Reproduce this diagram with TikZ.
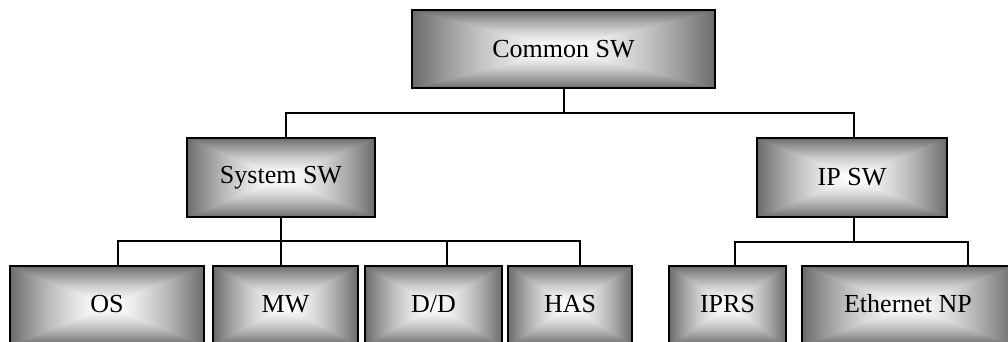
\documentclass[tikz,border=0pt]{standalone}
\usepackage{fontspec}
\setmainfont{Liberation Serif}
\pgfdeclarefunctionalshading{rectgrad}{\pgfpoint{0bp}{0bp}}{\pgfpoint{100bp}{100bp}}{}{
 50 sub abs exch 50 sub abs
 2 copy lt {exch} if pop
 25 div dup 1 gt {pop 1} if
 dup sqrt mul
 -0.58 mul 1 add dup dup
}
\newcommand{\uptxt}[1]{\raisebox{4pt}{#1}}
\begin{document}
\begin{tikzpicture}[x=1pt,y=-1pt,
  box/.style={draw=black, line width=1.6pt, shade, shading=rectgrad,
    inner sep=0pt, minimum height=79pt,
    font=\fontsize{26}{30}\selectfont},
  wire/.style={draw=black, line width=1.5pt}]
\useasboundingbox (0,0) rectangle (1008,342);
\node[box, minimum width=303pt, minimum height=78pt] (common) at (563.5,49) {Common SW};
\node[box, minimum width=188pt] (sys) at (281,177.5) {System SW};
\node[box, minimum width=190pt] (ipsw) at (852,177.5) {IP SW};
\node[box, minimum width=194pt] (os) at (107,305.5) {\uptxt{OS}};
\node[box, minimum width=145pt] (mw) at (285.5,305.5) {\uptxt{MW}};
\node[box, minimum width=137pt] (dd) at (433.5,305.5) {\uptxt{D/D}};
\node[box, minimum width=124pt] (has) at (570,305.5) {\uptxt{HAS}};
\node[box, minimum width=117pt] (iprs) at (727.5,305.5) {\uptxt{IPRS}};
\node[box, minimum width=212pt] (eth) at (908,305.5) {\uptxt{Ethernet NP}};
\coordinate (busT) at (564,113);
\coordinate (busL) at (281,241);
\coordinate (busR) at (854,242);
% top level
\draw[wire] ([xshift=0.5]common.south) -- (busT);
\draw[wire] (busT) -| ([xshift=5]sys.north);
\draw[wire] (busT) -| ([xshift=2]ipsw.north);
% system sw
\draw[wire] (sys.south) -- (busL);
\draw[wire] ([xshift=11]os.north) |- (busL);
\draw[wire] ([xshift=-4.5]mw.north) -- (busL);
\draw[wire] ([xshift=13.5]dd.north) |- (busL);
\draw[wire] ([xshift=10]has.north) |- (busL);
% ip sw
\draw[wire] ([xshift=2]ipsw.south) -- (busR);
\draw[wire] ([xshift=7.5]iprs.north) |- (busR);
\draw[wire] ([xshift=60]eth.north) |- (busR);
\end{tikzpicture}
\end{document}
